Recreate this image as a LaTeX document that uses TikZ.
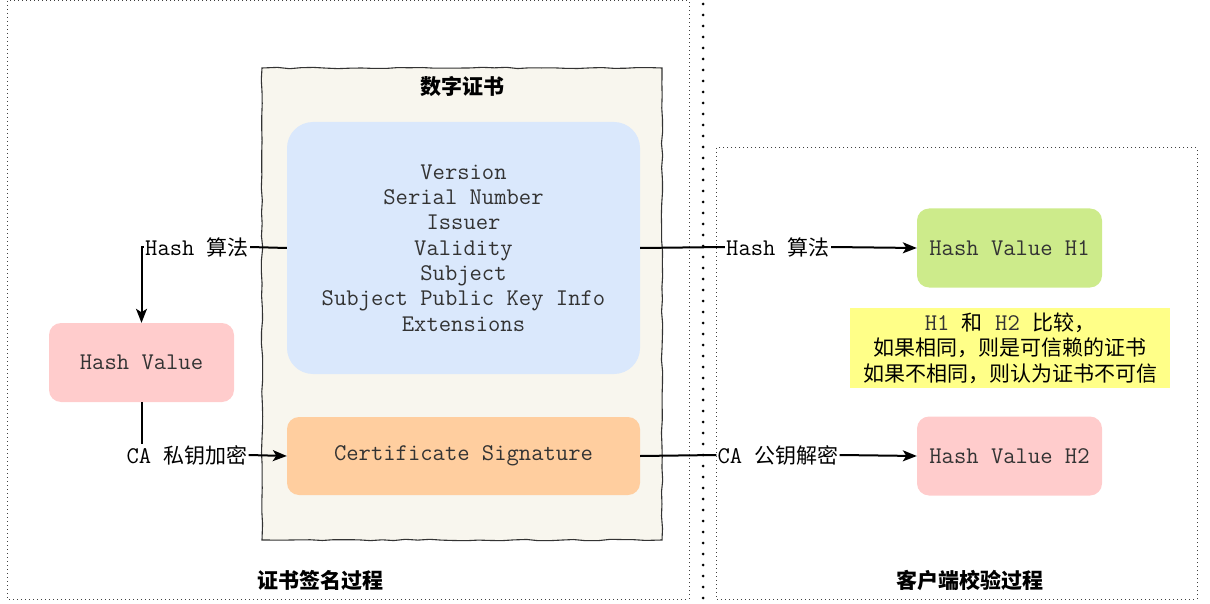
\documentclass[tikz,border=0pt]{standalone}
\usepackage{fontspec}
\setmainfont{Noto Sans CJK SC}
\newfontfamily\mono{Latin Modern Mono}[Scale=1.14]
\usetikzlibrary{arrows.meta,decorations.pathmorphing}
\definecolor{parch}{HTML}{F8F6EE}
\definecolor{bluef}{HTML}{DAE8FC}
\definecolor{orangef}{HTML}{FFCE9F}
\definecolor{greenf}{HTML}{CDEB8B}
\definecolor{pinkf}{HTML}{FFCCCC}
\definecolor{yellowf}{HTML}{FFFF88}
\definecolor{txt}{HTML}{333333}
\tikzset{
  fs/.style={font=\fontsize{21}{25.3}\selectfont},
  rbox/.style={fs, rounded corners=12pt, minimum width=185pt, minimum height=79pt, inner sep=0pt, text=txt, align=center},
  lbl/.style={fs, fill=white, inner sep=1pt, text=black},
  conn/.style={line width=2pt, draw=black},
  arr/.style={conn, -{Stealth[length=14pt,width=11pt,inset=3.5pt]}},
  thindot/.style={line width=1pt, draw=black!75, dash pattern=on 1pt off 3pt},
  bolddot/.style={line width=3pt, draw=black, line cap=round, dash pattern=on 0pt off 11pt},
  title/.style={fs, font=\fontsize{21}{25}\selectfont\bfseries}
}
\begin{document}
\begin{tikzpicture}[x=1pt,y=-1pt]
\useasboundingbox (0,0) rectangle (1210,604);
% frames
\draw[thindot] (7,1) rectangle (689,599);
\draw[thindot] (716,148) rectangle (1197,599);
\draw[bolddot] (703,4) -- (703,604);
% certificate
\draw[fill=parch, draw=black!80, line width=1.1pt, decorate, decoration={random steps, segment length=12pt, amplitude=0.7pt}]
  (262,68) rectangle (662,540);
\node[title] (ctitle) at (462,87) {数字证书};
\node[rbox, fill=bluef, minimum width=353pt, minimum height=252pt, rounded corners=26pt] (blue) at (463.5,248)
  {\mono Version\\ \mono Serial Number\\ \mono Issuer\\ \mono Validity\\ \mono Subject\\ \mono Subject Public Key Info\\ \mono Extensions};
\node[rbox, fill=orangef, minimum width=353pt, minimum height=78pt] (orange) at (463.5,456) {\mono Certificate Signature};
\node[rbox, fill=pinkf] (hv) at (141.5,362.5) {\mono Hash Value};
\node[rbox, fill=greenf] (h1) at (1009.5,248) {\mono Hash Value H1};
\node[rbox, fill=pinkf] (h2) at (1009.5,456) {\mono Hash Value H2};
\node[fs, fill=yellowf, minimum width=320pt, minimum height=80pt, inner sep=0pt, align=center, text=black] (cmp) at (1010,348)
  {{\mono\color{txt}H1\ }和{\mono\ \color{txt}H2\ }比较，\\如果相同，则是可信赖的证书\\如果不相同，则认为证书不可信};
% labels
\node[lbl] (l1) at (197,247) {{\mono Hash\ }算法};
\node[lbl] (l2) at (187,455) {{\mono CA\ }私钥加密};
\node[lbl] (l3) at (778,247) {{\mono Hash\ }算法};
\node[lbl] (l4) at (778,455) {{\mono CA\ }公钥解密};
% connectors
\draw[conn] (blue.west) -- (l1.east);
\draw[arr] (l1.west) -| (hv.north);
\draw[conn] (hv.south) -- (hv.south |- l2.north);
\draw[arr] (l2.east) -- (orange.west);
\draw[conn] (blue.east) -- (l3.west);
\draw[arr] (l3.east) -- (h1.west);
\draw[conn] (orange.east) -- (l4.west);
\draw[arr] (l4.east) -- (h2.west);
% bottom titles
\node[title] (t1) at (320,580) {证书签名过程};
\node[title] (t2) at (970,580) {客户端校验过程};
\end{tikzpicture}
\end{document}
